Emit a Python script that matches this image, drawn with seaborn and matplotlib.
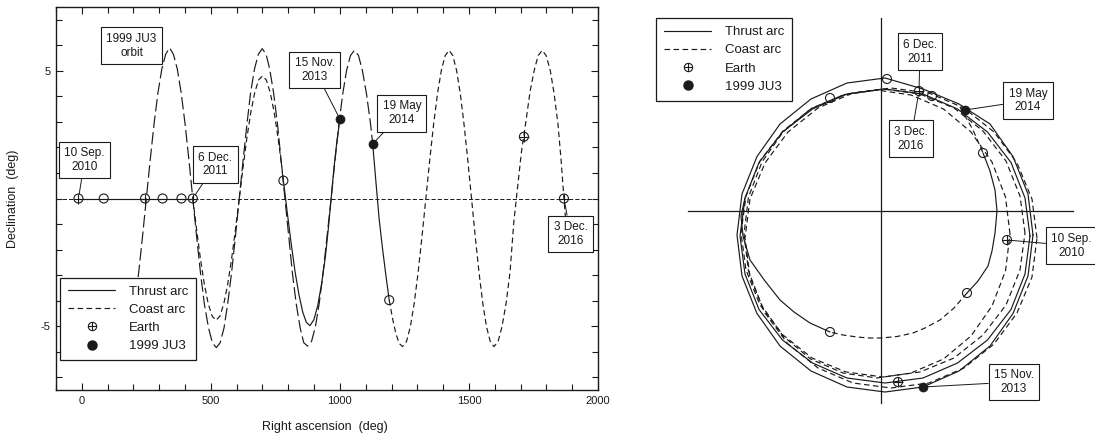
import matplotlib
matplotlib.use('Agg')
import matplotlib.pyplot as plt
import seaborn as sns
from matplotlib.lines import Line2D
from matplotlib.ticker import MultipleLocator, FixedLocator

#########################
#         Data          #
#########################

# Left panel: right ascension / declination (deg)
# 1999 JU3 orbit (long dashes)
ju3_ra = [175, 190, 205, 220, 235, 250, 265, 280, 295, 310, 325, 340,
          355, 370, 385, 400, 415, 430, 445, 460, 475, 491, 506, 521,
          536, 551, 565, 580, 595, 610, 625, 640, 654, 669, 684, 699,
          714, 728, 743, 758, 772, 787, 802, 816, 831, 846, 860, 875,
          890, 905, 920, 935, 950, 966, 981, 996, 1011, 1026, 1041, 1056,
          1072, 1087, 1103, 1119, 1127]
ju3_dec = [-5.65, -5.07, -4.14, -2.93, -1.51, 0, 1.51, 2.93, 4.14, 5.07, 5.65, 5.9,
           5.65, 5.07, 4.14, 2.93, 1.51, 0, -1.51, -2.93, -4.14, -5.07, -5.65, -5.84,
           -5.65, -5.07, -4.14, -2.93, -1.51, 0, 1.51, 2.93, 4.14, 5.07, 5.65, 5.87,
           5.65, 5.07, 4.14, 2.93, 1.51, 0, -1.51, -2.93, -4.14, -5.07, -5.65, -5.78,
           -5.6, -5.02, -4.1, -2.9, -1.5, 0, 1.5, 2.9, 4.1, 5.02, 5.6, 5.8,
           5.6, 5.02, 4.1, 2.9, 2.14]

# spacecraft thrust arcs (solid)
thrust1_ra = [-13, 85, 245, 313, 386, 430]
thrust1_dec = [0, 0, 0, 0, 0, 0]
thrust2_ra = [781, 796, 811, 826, 841, 856, 870, 884, 899, 914, 929, 944, 955, 966, 977, 988, 1000]
thrust2_dec = [0.7, -0.55, -1.75, -2.85, -3.75, -4.45, -4.85, -4.98, -4.75, -4.2, -3.35, -2.25,
               -1.2, 0, 1.2, 2.2, 3.11]
thrust3_ra = [1127, 1140, 1152, 1165, 1178, 1191]
thrust3_dec = [2.14, 0.6, -0.8, -1.95, -3.0, -3.98]

# spacecraft coast arcs (dashed)
coast1_ra = [430, 445, 460, 475, 490, 505, 520, 535, 550, 565, 580, 595, 610, 625, 640, 655,
             670, 685, 700, 715, 730, 745, 760, 775, 781]
coast1_dec = [0, -1.23, -2.39, -3.37, -4.13, -4.61, -4.77, -4.61, -4.13, -3.38, -2.39, -1.24,
              0, 1.24, 2.4, 3.39, 4.15, 4.64, 4.8, 4.64, 4.15, 3.39, 2.4, 1.24, 0.7]
coast2_ra = [1191, 1204, 1217, 1230, 1243, 1258, 1273, 1288, 1303, 1318, 1333, 1348, 1363,
             1378, 1393, 1408, 1423, 1437.5, 1452, 1466.5, 1481, 1495.5, 1510, 1524.5, 1539,
             1553.5, 1568, 1582.5, 1597, 1613, 1628, 1644, 1659, 1674, 1688, 1703, 1719, 1737,
             1753, 1768, 1784, 1799, 1815, 1830, 1845, 1857, 1868, 1880]
coast2_dec = [-3.98, -4.7, -5.3, -5.68, -5.8, -5.6, -5.02, -4.1, -2.9, -1.5, 0, 1.5, 2.9,
              4.1, 5.02, 5.6, 5.8, 5.6, 5.02, 4.1, 2.9, 1.5, 0, -1.5, -2.9,
              -4.1, -5.02, -5.6, -5.8, -5.6, -5.02, -4.1, -2.9, -0.9, 0.4, 1.8, 2.9, 4.2,
              5.02, 5.6, 5.8, 5.6, 5.02, 4.1, 2.9, 1.5, 0, -1.5]

earth_ra = [-13, 245, 430, 1713, 1868]
earth_dec = [0, 0, 0, 2.42, 0]
earth_open_ra = [85, 313, 386, 781, 1191]
earth_open_dec = [0, 0, 0, 0.7, -3.98]
ast_ra = [1000, 1127]
ast_dec = [3.11, 2.14]

left_labels = ['10 Sep.\n2010', '6 Dec.\n2011', '15 Nov.\n2013', '19 May\n2014', '3 Dec.\n2016']
left_label_ra = [-13, 430, 1000, 1127, 1868]
left_label_dec = [0, 0, 3.11, 2.14, 0]

# Right panel: ecliptic plane view
s1_x = [1.52, 1.47, 1.32, 1.09, 0.78, 0.42, 0.04, -0.34, -0.70, -1.01, -1.24, -1.39, -1.44,
        -1.39, -1.24, -1.01, -0.70, -0.34, 0.04, 0.42, 0.78, 1.09, 1.32, 1.47, 1.52]
s1_y = [-0.24, 0.17, 0.545, 0.87, 1.07, 1.22, 1.33, 1.28, 1.12, 0.87, 0.545, 0.17, -0.24,
        -0.65, -1.025, -1.35, -1.60, -1.76, -1.81, -1.76, -1.60, -1.35, -1.025, -0.65, -0.24]
s2_x = [1.49, 1.44, 1.30, 1.065, 0.765, 0.42, 0.04, -0.34, -0.685, -0.985, -1.22, -1.36, -1.41,
        -1.36, -1.22, -0.985, -0.685, -0.34, 0.04, 0.42, 0.765, 1.065, 1.30, 1.44, 1.49]
s2_y = [-0.25, 0.13, 0.485, 0.79, 1.02, 1.17, 1.22, 1.17, 1.02, 0.79, 0.485, 0.13, -0.25,
        -0.63, -0.985, -1.29, -1.52, -1.67, -1.72, -1.67, -1.52, -1.29, -0.985, -0.63, -0.25]
d1_x = [1.56, 1.51, 1.36, 1.13, 0.83, 0.48, 0.10, -0.28, -0.63, -0.93, -1.16, -1.31, -1.36,
        -1.31, -1.16, -0.93, -0.63, -0.28, 0.10, 0.48, 0.83, 1.13, 1.36, 1.51, 1.56]
d1_y = [-0.27, 0.12, 0.48, 0.79, 1.03, 1.18, 1.23, 1.18, 1.03, 0.79, 0.48, 0.12, -0.27,
        -0.66, -1.02, -1.33, -1.57, -1.72, -1.77, -1.72, -1.57, -1.33, -1.02, -0.66, -0.27]
d2_x = [1.44, 1.39, 1.25, 1.02, 0.73, 0.39, 0.02, -0.35, -0.69, -0.98, -1.21, -1.35, -1.40,
        -1.35, -1.21, -0.98, -0.69, -0.35, 0.02, 0.39, 0.73, 1.02, 1.25, 1.39, 1.44]
d2_y = [-0.22, 0.15, 0.50, 0.80, 1.03, 1.17, 1.22, 1.17, 1.03, 0.80, 0.50, 0.15, -0.22,
        -0.59, -0.94, -1.24, -1.47, -1.61, -1.66, -1.61, -1.47, -1.24, -0.94, -0.59, -0.22]
d3_x = [1.29, 1.245, 1.11, 0.90, 0.625, 0.30, -0.04, -0.38, -0.705, -0.98, -1.19, -1.325, -1.37,
        -1.325, -1.19, -0.98, -0.705, -0.38, -0.04, 0.30, 0.625, 0.90, 1.11, 1.245, 1.29]
d3_y = [-0.23, 0.14, 0.49, 0.79, 1.02, 1.16, 1.21, 1.16, 1.02, 0.79, 0.49, 0.14, -0.23,
        -0.60, -0.95, -1.25, -1.48, -1.62, -1.67, -1.62, -1.48, -1.25, -0.95, -0.60, -0.23]
inner_coast1_x = [0.79, 0.92, 1.02]
inner_coast1_y = [1.04, 0.81, 0.58]
inner_thrust1_x = [1.02, 1.09, 1.14, 1.16, 1.14, 1.11, 1.07, 0.97, 0.86]
inner_thrust1_y = [0.58, 0.40, 0.21, 0.0, -0.22, -0.40, -0.55, -0.70, -0.82]
inner_coast2_x = [0.86, 0.73, 0.59, 0.44, 0.32, 0.16, 0.0, -0.12, -0.24, -0.38, -0.51]
inner_coast2_y = [-0.82, -0.97, -1.09, -1.17, -1.22, -1.255, -1.27, -1.27, -1.26, -1.24, -1.21]
inner_thrust2_x = [-0.51, -0.71, -0.87, -1.01, -1.16, -1.31, -1.38, -1.40, -1.36]
inner_thrust2_y = [-1.21, -1.12, -1.01, -0.89, -0.70, -0.49, -0.25, -0.05, 0.13]

r_earth_x = [0.38, 1.26, 0.17]
r_earth_y = [1.20, -0.29, -1.71]
r_earth_open_x = [0.06, -0.51, 0.51, 1.02, 0.86, -0.51]
r_earth_open_y = [1.32, 1.13, 1.15, 0.58, -0.82, -1.21]
r_ast_x = [0.84, 0.42]
r_ast_y = [1.01, -1.76]

right_labels = ['6 Dec.\n2011', '3 Dec.\n2016', '19 May\n2014', '10 Sep.\n2010', '15 Nov.\n2013']
right_label_x = [0.38, 0.38, 0.84, 1.26, 0.42]
right_label_y = [1.20, 1.20, 1.01, -0.29, -1.76]

#########################
#        Styling        #
#########################
sns.set_theme(style='ticks')
plt.rcParams['font.family'] = ['Liberation Sans', 'DejaVu Sans']
plt.rcParams['text.color'] = 'k'
plt.rcParams['axes.labelcolor'] = 'k'
plt.rcParams['xtick.color'] = 'k'
plt.rcParams['ytick.color'] = 'k'
plt.rcParams['axes.unicode_minus'] = False
plt.rcParams['lines.scale_dashes'] = False

LW = 0.85
THRUST = '-'
COAST = (0, (4, 2.5))
ORBIT = (0, (9, 3))
box = dict(boxstyle='square,pad=0.45', fc='w', ec='k', lw=0.8)
lead = dict(arrowstyle='-', color='k', lw=0.7, shrinkA=0, shrinkB=3)
leg_kw = dict(borderaxespad=0, fontsize=9.5, frameon=True, fancybox=False, framealpha=1,
              edgecolor='k', handlelength=3.6, handletextpad=1.0, labelspacing=0.45,
              borderpad=0.6)

fig = plt.figure(figsize=(10.95, 4.41), dpi=100)
ax = fig.add_axes([56 / 1095, 51 / 441, 542 / 1095, 383 / 441])
ax2 = fig.add_axes([640 / 1095, 0, 455 / 1095, 1])


def line(axis, x, y, ls):
    sns.lineplot(x=x, y=y, sort=False, estimator=None, color='k', lw=LW, linestyle=ls, ax=axis)


def earth(axis, x, y, cross=True):
    sns.scatterplot(x=x, y=y, marker='o', s=42, color='k', facecolor='none', edgecolor='k',
                    linewidth=0.8, ax=axis, zorder=5)
    if cross:
        sns.scatterplot(x=x, y=y, marker='+', s=42, color='k', linewidth=0.8, ax=axis, zorder=5)


def asteroid(axis, x, y):
    sns.scatterplot(x=x, y=y, marker='o', s=42, color='k', edgecolor='k', ax=axis, zorder=6)


def handles():
    return [Line2D([], [], color='k', lw=LW, linestyle=THRUST),
            Line2D([], [], color='k', lw=LW, linestyle=COAST),
            (Line2D([], [], color='k', marker='o', mfc='none', ms=6, mew=0.8, ls='none'),
             Line2D([], [], color='k', marker='+', ms=6, mew=0.8, ls='none')),
            Line2D([], [], color='k', marker='o', ms=6.5, ls='none')]


leg_labels = ['Thrust arc', 'Coast arc', 'Earth', '1999 JU3']

##########################
#      Left panel        #
##########################
ax.axhline(0, color='k', lw=0.7, linestyle=(0, (3, 1.5)))
line(ax, ju3_ra, ju3_dec, ORBIT)
line(ax, thrust1_ra, thrust1_dec, THRUST)
line(ax, thrust2_ra, thrust2_dec, THRUST)
line(ax, thrust3_ra, thrust3_dec, THRUST)
line(ax, coast1_ra, coast1_dec, COAST)
line(ax, coast2_ra, coast2_dec, COAST)
earth(ax, earth_ra, earth_dec)
earth(ax, earth_open_ra, earth_open_dec, cross=False)
asteroid(ax, ast_ra, ast_dec)

ax.set_xlim(-100, 2000)
ax.set_ylim(-7.5, 7.5)
ax.xaxis.set_major_locator(MultipleLocator(500))
ax.xaxis.set_minor_locator(MultipleLocator(100))
ax.yaxis.set_major_locator(FixedLocator([-5, 5]))
ax.yaxis.set_minor_locator(MultipleLocator(1))
ax.tick_params(which='both', direction='in', top=True, right=True, labelsize=8, width=0.8, pad=4)
ax.tick_params(which='major', length=5)
ax.tick_params(which='minor', length=4)
for sp in ax.spines.values():
    sp.set_visible(True)
    sp.set_linewidth(1.0)
    sp.set_color('k')
ax.set_xlabel('Right ascension  (deg)', fontsize=9)
ax.set_ylabel('Declination  (deg)', fontsize=9)
ax.xaxis.set_label_coords(0.496, -0.08)
ax.yaxis.set_label_coords(-0.068, 0.5)

# labels on the events
left_offsets = [(4.5, 27.7), (16.3, 24.5), (-18.1, 35.5), (21, 22), (4.8, -25.4)]
for txt, x, y, off in zip(left_labels, left_label_ra, left_label_dec, left_offsets):
    ax.annotate(txt, xy=(x, y), xytext=off, textcoords='offset points', ha='center', va='center',
                fontsize=8.5, bbox=box, arrowprops=lead, zorder=7)
ax.annotate('1999 JU3\norbit', xy=(340, 5.9), xytext=(-27.4, 1.6), textcoords='offset points',
            ha='center', va='center', fontsize=8.5, bbox=box, zorder=7)

leg = ax.legend(handles(), leg_labels, loc='lower left', bbox_to_anchor=(0.0074, 0.078), **leg_kw)
leg.get_frame().set_linewidth(0.9)
leg.set_zorder(10)

##########################
#      Right panel       #
##########################
line(ax2, s1_x, s1_y, THRUST)
line(ax2, s2_x, s2_y, THRUST)
line(ax2, d1_x, d1_y, COAST)
line(ax2, d2_x, d2_y, COAST)
line(ax2, d3_x, d3_y, COAST)
line(ax2, inner_coast1_x, inner_coast1_y, COAST)
line(ax2, inner_thrust1_x, inner_thrust1_y, THRUST)
line(ax2, inner_coast2_x, inner_coast2_y, COAST)
line(ax2, inner_thrust2_x, inner_thrust2_y, THRUST)
earth(ax2, r_earth_x, r_earth_y)
earth(ax2, r_earth_open_x, r_earth_open_y, cross=False)
asteroid(ax2, r_ast_x, r_ast_y)

ax2.set_xlim(-2.41, 2.14)
ax2.set_ylim(-2.30, 2.11)
ax2.set_facecolor('none')
for side in ['top', 'right']:
    ax2.spines[side].set_visible(False)
ax2.spines['left'].set_position(('data', 0))
ax2.spines['bottom'].set_position(('data', 0))
ax2.spines['left'].set_bounds(-1.92, 1.93)
ax2.spines['bottom'].set_bounds(-1.93, 1.92)
for side in ['left', 'bottom']:
    ax2.spines[side].set_color('k')
    ax2.spines[side].set_linewidth(0.9)
ax2.set_xticks([])
ax2.set_yticks([])
ax2.set_xlabel('')
ax2.set_ylabel('')

right_offsets = [(0.7, 28.3), (-5.8, -34.3), (45.4, 6.8), (46.5, -4.1), (65.5, 3.6)]
for txt, x, y, off in zip(right_labels, right_label_x, right_label_y, right_offsets):
    ax2.annotate(txt, xy=(x, y), xytext=off, textcoords='offset points', ha='center', va='center',
                 fontsize=8.5, bbox=box, arrowprops=lead, zorder=7, annotation_clip=False)

leg2 = ax2.legend(handles(), leg_labels, loc='upper left', bbox_to_anchor=(656 / 1095, 1 - 18 / 441),
                  bbox_transform=fig.transFigure, **leg_kw)
leg2.get_frame().set_linewidth(0.9)

plt.savefig('out.png', dpi=100)
